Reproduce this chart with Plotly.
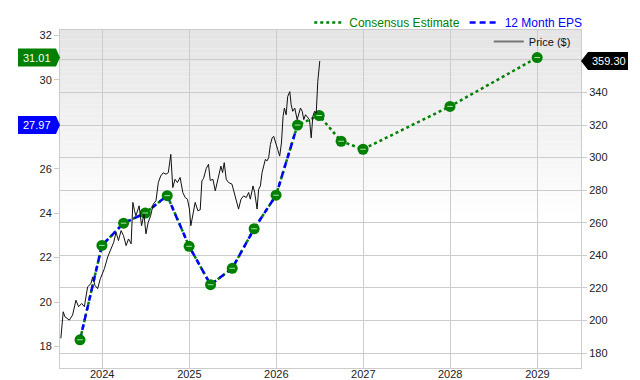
import plotly.graph_objects as go
import pandas as pd

# ---------------- data ----------------
eps_actual_dates = ["2023-09-30", "2023-12-31", "2024-03-31", "2024-06-30", "2024-09-30",
                    "2024-12-31", "2025-03-31", "2025-06-30", "2025-09-30", "2025-12-31",
                    "2026-03-31"]
eps_actual = [18.30, 22.55, 23.55, 24.01, 24.79, 22.51, 20.78, 21.52, 23.30, 24.81, 27.97]

est_dates = ["2026-03-31", "2026-06-30", "2026-09-30", "2026-12-31", "2027-12-31", "2028-12-31"]
est_values = [27.97, 28.40, 27.24, 26.88, 28.81, 31.01]

price_years = [2023.525, 2023.552, 2023.571, 2023.622, 2023.660, 2023.698, 2023.729, 2023.764,
               2023.795, 2023.833, 2023.871, 2023.890, 2023.917, 2023.948, 2023.979, 2024.025,
               2024.063, 2024.101, 2024.133, 2024.159, 2024.187, 2024.217, 2024.245, 2024.275,
               2024.302, 2024.332, 2024.352, 2024.371, 2024.387, 2024.424, 2024.452, 2024.479,
               2024.502, 2024.528, 2024.556, 2024.586, 2024.617, 2024.644, 2024.671, 2024.701,
               2024.732, 2024.759, 2024.787, 2024.810, 2024.836, 2024.863, 2024.894, 2024.925,
               2024.952, 2024.978, 2025.001, 2025.017, 2025.047, 2025.067, 2025.098, 2025.125,
               2025.144, 2025.163, 2025.194, 2025.220, 2025.240, 2025.271, 2025.298, 2025.336,
               2025.363, 2025.382, 2025.401, 2025.424, 2025.451, 2025.490, 2025.528, 2025.566,
               2025.594, 2025.624, 2025.655, 2025.682, 2025.701, 2025.732, 2025.751, 2025.779,
               2025.797, 2025.817, 2025.836, 2025.855, 2025.874, 2025.894, 2025.912, 2025.932,
               2025.952, 2025.970, 2025.990, 2026.016, 2026.039, 2026.059, 2026.078, 2026.093,
               2026.113, 2026.131, 2026.155, 2026.171, 2026.189, 2026.212, 2026.240, 2026.258,
               2026.278, 2026.298, 2026.316, 2026.336, 2026.355, 2026.382, 2026.401, 2026.420,
               2026.440, 2026.459, 2026.477, 2026.500]
price_values = [189.1, 205.4, 202.4, 200.3, 203.4, 212.5, 208.5, 210.5,
                208.5, 220.7, 222.7, 226.8, 221.6, 219.6, 225.7, 231.8,
                239.0, 244.0, 248.1, 254.2, 249.1, 255.2, 252.1, 246.0,
                250.1, 247.1, 272.5, 267.4, 264.3, 270.4, 258.2, 265.4,
                253.2, 260.3, 264.3, 271.5, 273.5, 284.7, 288.7, 290.7,
                289.8, 290.8, 302.0, 281.6, 286.7, 284.7, 287.8, 278.6,
                275.5, 274.5, 268.4, 258.2, 268.4, 272.5, 267.4, 268.0,
                285.7, 287.2, 293.3, 295.9, 286.0, 286.7, 279.6, 288.7,
                294.8, 290.8, 296.9, 286.7, 284.7, 283.7, 275.5, 268.4,
                274.5, 276.5, 275.5, 278.6, 274.5, 282.6, 278.6, 268.4,
                280.6, 282.6, 290.8, 295.9, 298.9, 298.0, 300.0, 308.0,
                312.1, 313.1, 310.1, 305.0, 300.9, 309.0, 325.3, 330.4,
                326.3, 337.5, 340.5, 332.4, 328.4, 330.4, 323.3, 327.3,
                330.4, 328.4, 323.3, 326.3, 325.3, 323.3, 312.1, 325.3,
                328.4, 327.3, 346.7, 359.3]

year_ticks = ["2024-01-01", "2025-01-01", "2026-01-01", "2027-01-01", "2028-01-01", "2029-01-01"]
year_labels = ["2024", "2025", "2026", "2027", "2028", "2029"]
eps_ticks = [18, 20, 22, 24, 26, 30, 32]
price_ticks = [180, 200, 220, 240, 260, 280, 300, 320, 340, 360]
price_tick_labels = ["180", "200", "220", "240", "260", "280", "300", "320", "340", ""]

last_est_label = "31.01"
last_eps_label = "27.97"
last_price_label = "359.30"


def yr_to_date(v):
    y = int(v)
    start = pd.Timestamp(y, 1, 1)
    end = pd.Timestamp(y + 1, 1, 1)
    return start + (end - start) * (v - y)


price_dates = [yr_to_date(v) for v in price_years]

GREEN = "#008000"
BLUE = "#0000ff"
GRID = "#cccccc"
FONT = "Liberation Sans, Arial, sans-serif"

fig = go.Figure()

# price line
fig.add_trace(go.Scatter(x=price_dates, y=price_values, yaxis="y2", mode="lines",
                         line=dict(color="#111111", width=1), showlegend=False,
                         hoverinfo="skip"))

all_dates = eps_actual_dates + est_dates[1:]
all_values = eps_actual + est_values[1:]

# consensus estimate (green dotted) through all points
fig.add_trace(go.Scatter(x=all_dates, y=all_values, mode="lines",
                         name="<span style='color:#008000'>Consensus Estimate</span>",
                         line=dict(color=GREEN, width=2.5, dash="dot"), legend="legend"))
# 12 month EPS (blue dashed)
fig.add_trace(go.Scatter(x=eps_actual_dates, y=eps_actual, mode="lines",
                         name="<span style='color:#0000ff'>12 Month EPS</span>",
                         line=dict(color=BLUE, width=2.5, dash="6px,4px"), legend="legend"))
# markers
fig.add_trace(go.Scatter(x=all_dates, y=all_values, mode="markers",
                         marker=dict(symbol="circle", size=11, color=GREEN,
                                     line=dict(color=GREEN, width=0)),
                         showlegend=False))
fig.add_trace(go.Scatter(x=all_dates, y=all_values, mode="markers",
                         marker=dict(symbol="line-ew", size=4,
                                     line=dict(color="rgba(190,235,190,0.9)", width=1)),
                         showlegend=False, hoverinfo="skip"))
# price legend entry
fig.add_trace(go.Scatter(x=[None], y=[None], yaxis="y2", mode="lines", name="Price ($)",
                         line=dict(color="#777777", width=2), legend="legend2"))

shapes = []
# background gradient (top grey fading to white)
n = 40
for i in range(n):
    top = 1.0 - i * 0.55 / n
    bot = 1.0 - (i + 1) * 0.55 / n
    c = int(229 + (255 - 229) * i / n)
    shapes.append(dict(type="rect", xref="paper", yref="paper", x0=0, x1=1, y0=bot, y1=top,
                       fillcolor=f"rgb({c},{c},{c})", line=dict(width=0), layer="below"))

# value flags
shapes.append(dict(type="path", xref="paper", yref="y", xsizemode="pixel", ysizemode="pixel",
                   xanchor=0, yanchor=est_values[-1],
                   path="M-42,-9 L-4,-9 L0,0 L-4,9 L-42,9 Z",
                   fillcolor=GREEN, line=dict(width=0), layer="above"))
shapes.append(dict(type="path", xref="paper", yref="y", xsizemode="pixel", ysizemode="pixel",
                   xanchor=0, yanchor=eps_actual[-1],
                   path="M-42,-9 L-4,-9 L0,0 L-4,9 L-42,9 Z",
                   fillcolor=BLUE, line=dict(width=0), layer="above"))
shapes.append(dict(type="path", xref="paper", yref="y2", xsizemode="pixel", ysizemode="pixel",
                   xanchor=1, yanchor=price_values[-1],
                   path="M0,0 L7,-9 L47,-9 L47,9 L7,9 Z",
                   fillcolor="#000000", line=dict(width=0), layer="above"))

annotations = [
    dict(xref="paper", yref="y", x=0, y=est_values[-1], text=last_est_label, showarrow=False,
         xanchor="left", xshift=-39, font=dict(color="white", size=11, family=FONT)),
    dict(xref="paper", yref="y", x=0, y=eps_actual[-1], text=last_eps_label, showarrow=False,
         xanchor="left", xshift=-39, font=dict(color="white", size=11, family=FONT)),
    dict(xref="paper", yref="y2", x=1, y=price_values[-1], text=last_price_label, showarrow=False,
         xanchor="left", xshift=9, font=dict(color="white", size=11, family=FONT)),
]

fig.update_layout(
    width=640, height=380,
    margin=dict(l=60, r=59, t=30, b=12, autoexpand=False),
    paper_bgcolor="white", plot_bgcolor="white",
    font=dict(family=FONT, size=11, color="#222222"),
    xaxis=dict(type="date", range=["2023-07-08", "2029-07-03"],
               tickvals=year_ticks, ticktext=year_labels,
               showgrid=True, gridcolor=GRID, gridwidth=1,
               showline=True, linecolor=GRID, mirror=True, ticks="",
               ticklabelstandoff=-4,
               zeroline=False, automargin=False),
    yaxis=dict(range=[17.03, 32.25], tickvals=eps_ticks, ticks="outside", ticklen=5,
               tickcolor=GRID, showgrid=False, showline=True, linecolor=GRID,
               zeroline=False, automargin=False),
    yaxis2=dict(overlaying="y", side="right", range=[170.9, 378.3], tickvals=price_ticks,
                ticktext=price_tick_labels,
                ticks="outside", ticklen=5, tickcolor=GRID, showgrid=True, gridcolor=GRID,
                showline=True, linecolor=GRID, zeroline=False, automargin=False),
    legend=dict(orientation="h", x=1.012, xanchor="right", y=0.979, yanchor="bottom",
                bgcolor="rgba(0,0,0,0)", font=dict(size=12, family=FONT),
                itemwidth=30, tracegroupgap=0),
    legend2=dict(x=0.99, xanchor="right", y=1.009, yanchor="top",
                 bgcolor="rgba(0,0,0,0)", font=dict(size=11, family=FONT, color="#111111")),
    shapes=shapes,
    annotations=annotations,
    showlegend=True,
)

fig.write_html("out.html")
